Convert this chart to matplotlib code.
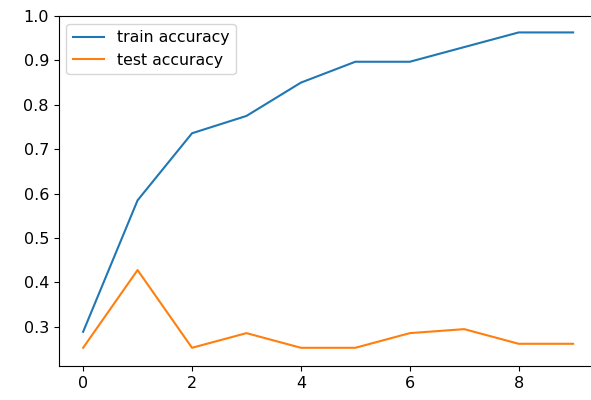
import numpy as np
import matplotlib
matplotlib.use("Agg")
import matplotlib.pyplot as plt

epochs = list(range(10))
train_acc = [0.289, 0.585, 0.736, 0.775, 0.850, 0.897, 0.897, 0.930, 0.963, 0.963]
test_acc = [0.253, 0.428, 0.253, 0.286, 0.253, 0.253, 0.286, 0.295, 0.262, 0.262]


def main():
    fig = plt.figure(figsize=(5.91, 4.0), dpi=100)
    ax = fig.add_axes([0.0992, 0.085, 0.912, 0.875])
    ax.plot(epochs, train_acc, label='train accuracy')
    ax.plot(epochs, test_acc, label='test accuracy')
    ax.set_xlim(-0.45, 9.45)
    ax.set_ylim(0.212, 1.0)
    ax.tick_params(labelsize=11.5)
    ax.legend(loc='upper left', fontsize=11.3)
    fig.savefig('out.png', dpi=100)


if __name__ == "__main__":
    main()
